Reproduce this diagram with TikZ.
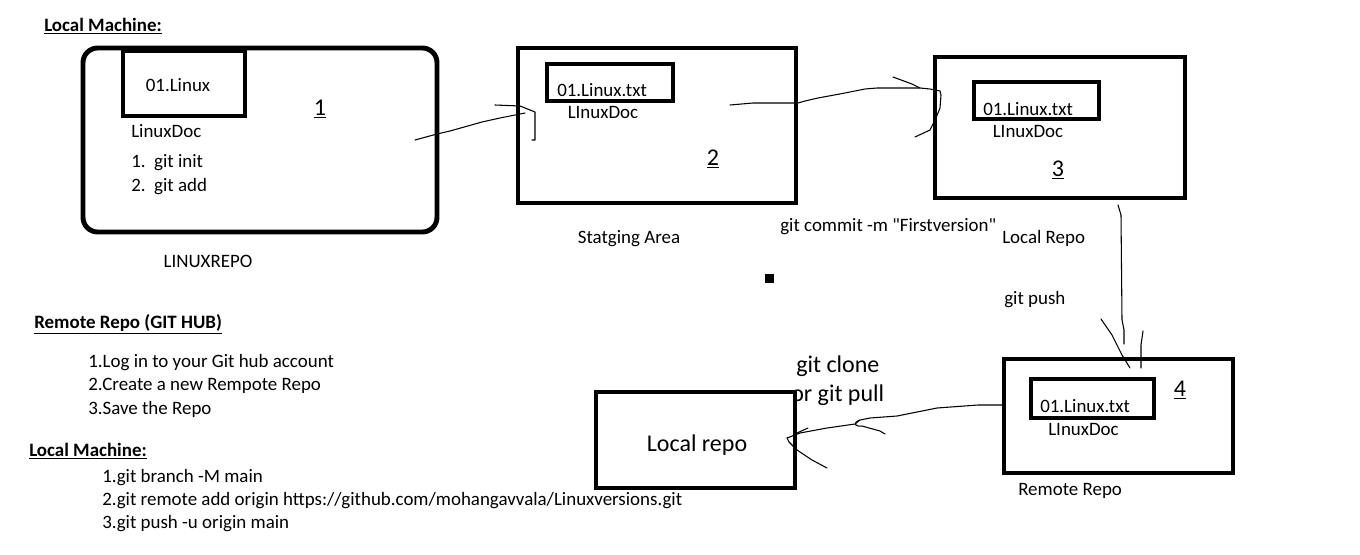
\documentclass[tikz,border=0pt]{standalone}
\usepackage{fontspec}
\setmainfont{Carlito}
\begin{document}
\begin{tikzpicture}[x=0.75pt,y=-0.75pt,
  box/.style={draw,line width=3.7pt,inner sep=0pt},
  txt/.style={inner sep=0pt,yshift=-1.5pt,font=\fontsize{14.2}{16}\selectfont},
  big/.style={inner sep=0pt,yshift=-1.5pt,font=\fontsize{18}{21}\selectfont},
  pen/.style={line width=0.8pt,line cap=round,line join=round}]
\def\px{0.75pt}
\useasboundingbox (0,0) rectangle (1360,554);
% local machine, repo 1
\node[txt,anchor=west] (head1) at (44,24) {\underline{\textbf{Local Machine:}}};
\node[box,rounded corners=11pt,minimum width=354*\px,minimum height=184*\px] (local) at (260,140) {};
\node[box,minimum width=122*\px,minimum height=65*\px] (file1) at (184,83.5) {};
\node[txt] (name1) at (178,83) {01.Linux};
\node[txt,anchor=west] (doc1) at (131,129) {LinuxDoc};
\node[txt,anchor=west] (init) at (131,161) {1.\ \ git init};
\node[txt,anchor=west] (add) at (131,185) {2.\ \ git add};
\node[big] (num1) at (320,107) {\underline{1}};
\node[txt] (repo1) at (208,259) {LINUXREPO};
% staging area
\node[box,minimum width=278*\px,minimum height=155*\px] (stage) at (657,125.5) {};
\node[box,minimum width=126*\px,minimum height=37*\px] (file2) at (610,82.5) {};
\node[txt,anchor=west] (name2) at (557,88) {01.Linux.txt};
\node[txt] (doc2) at (603,110) {LInuxDoc};
\node[big] (num2) at (713,157) {\underline{2}};
\node[txt] (stagelbl) at (629,237) {Statging Area};
% local repo
\node[box,minimum width=250*\px,minimum height=141*\px] (lrepo) at (1060,127.5) {};
\node[box,minimum width=125*\px,minimum height=37*\px] (file3) at (1036.5,100.5) {};
\node[txt,anchor=west] (name3) at (983,107) {01.Linux.txt};
\node[txt] (doc3) at (1028,129) {LInuxDoc};
\node[big] (num3) at (1058,168) {\underline{3}};
\node[txt,anchor=west] (commit) at (780,225) {git commit -m \textquotedbl Firstversion\textquotedbl};
\node[txt,anchor=west] (lrepolbl) at (1002,236) {Local Repo};
\fill (764.5,273.5) rectangle (773.5,282.5);
\node[txt,anchor=west] (push) at (1004,298) {git push};
% remote repo
\node[box,minimum width=229*\px,minimum height=114*\px] (rrepo) at (1118.5,416) {};
\node[box,minimum width=123*\px,minimum height=39*\px] (file4) at (1092.5,398.5) {};
\node[txt,anchor=west] (name4) at (1040,404) {01.Linux.txt};
\node[txt,anchor=west] (doc4) at (1048,427) {LInuxDoc};
\node[big] (num4) at (1180,388) {\underline{4}};
\node[txt,anchor=west] (rrepolbl) at (1018,489) {Remote Repo};
% clone
\node[big,anchor=west] (clone) at (796,364) {git clone};
\node[big,anchor=west] (pull) at (791,393) {or git pull};
\node[box,fill=white,minimum width=199*\px,minimum height=96*\px] (clrepo) at (695.5,440) {};
\node[big] (clrepolbl) at (697,443) {Local repo};
% notes
\node[txt,anchor=west] (head2) at (34,322) {\underline{\textbf{Remote Repo (GIT HUB)}}};
\node[txt,anchor=west] (r1) at (88,361) {1.Log in to your Git hub account};
\node[txt,anchor=west] (r2) at (88,384) {2.Create a new Rempote Repo};
\node[txt,anchor=west] (r3) at (88,407) {3.Save the Repo};
\node[txt,anchor=west] (head3) at (29,449) {\underline{\textbf{Local Machine:}}};
\node[txt,anchor=west] (m1) at (102,476) {1.git branch -M main};
\node[txt,anchor=west] (m2) at (102,499) {2.git remote add origin https://github.com/mohangavvala/Linuxversions.git};
\node[txt,anchor=west] (m3) at (102,522) {3.git push -u origin main};
% hand drawn arrows
\coordinate (s12) at (415,140);
\coordinate (t12) at (525,113);
\draw[pen] (s12) -- (437,134) -- (450,131) -- (482,122) -- (500,118) -- (t12);
\draw[pen] (495,105) -- (520,106) -- (535,112) -- (535,140) -- (532,140);
\coordinate (s23) at (730,105);
\coordinate (t23) at (940,91);
\draw[pen] (s23) -- (753,103) -- (798,103) -- (805,101) -- (818,98) -- (845,93) -- (865,89) -- (877,88) -- (920,88) -- (930,89) -- (t23);
\draw[pen] (893,77) -- (912,84) -- (920,88);
\draw[pen] (t23) -- (941,95) -- (940,108) -- (936,118) -- (930,130) -- (915,137);
\coordinate (s34) at (1118,205);
\coordinate (t34) at (1124,344);
\draw[pen] (s34) -- (1121,215) -- (1122,320) -- (1124,330) -- (t34);
\draw[pen] (1101,319) -- (1112,335) -- (1122,355) -- (1130,368);
\draw[pen] (1143,331) -- (1141,345) -- (1141,368);
\coordinate (s45) at (1002,405);
\coordinate (t45) at (787,438);
\draw[pen] (s45) -- (978,405) -- (937,408) -- (897,416) -- (870,418) -- (860,420) .. controls (852,423) and (855,427) .. (862,426) -- (880,431) -- (885,434);
\draw[pen] (860,420) -- (855,424) -- (827,428) -- (800,433) -- (t45);
\draw[pen] (808,428) -- (797,433);
\draw[pen] (t45) -- (789,442) -- (797,450) -- (812,460) -- (827,468);
\end{tikzpicture}
\end{document}
